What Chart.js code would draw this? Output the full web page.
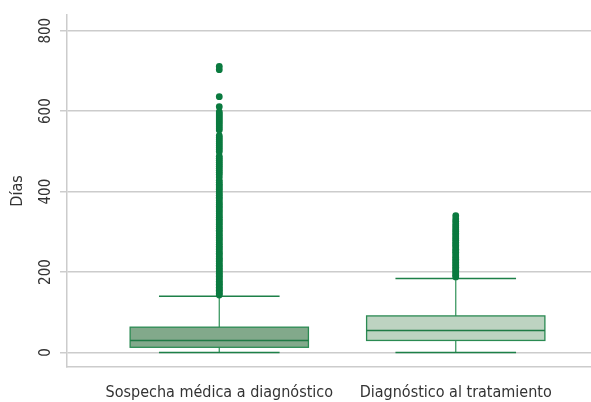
<!DOCTYPE html>
<html>
<head>
<meta charset="utf-8">
<script src="https://cdn.jsdelivr.net/npm/chart.js@4.4.1/dist/chart.umd.min.js"></script>
<style>
  html, body { margin: 0; padding: 0; background: #fff; }
  #wrap { width: 591px; height: 402px; }
</style>
</head>
<body>
<div id="wrap"><canvas id="boxChart"></canvas></div>
<script>
// --- Datos ---
const categorias = ['Sospecha médica a diagnóstico', 'Diagnóstico al tratamiento'];
const posiciones = [1, 2];

// Estadísticos de cada caja (días)
const bigoteInf = [0, 0];
const q1 = [13, 30];
const mediana = [30, 55];
const q3 = [63, 91];
const bigoteSup = [140, 184];

// Valores atípicos
const atipicosSospecha = [143, 147, 151, 155, 158, 162, 166, 170, 173, 177, 181, 185, 189, 193, 197,
  201, 205, 209, 213, 217, 221, 226, 230, 234, 238, 243, 247, 251, 256, 260, 264, 269, 273, 278,
  282, 286, 291, 295, 300, 304, 309, 313, 318, 322, 327, 331, 336, 340, 345, 350, 354, 359, 363,
  368, 372, 377, 382, 386, 391, 395, 400, 405, 409, 414, 418, 423, 428, 436, 443, 448, 453, 458,
  463, 468, 473, 478, 483, 488, 499, 504, 509, 514, 519, 524, 529, 534, 539, 553, 558,
  563, 568, 573, 578, 583, 588, 593, 598, 611, 636, 703, 711];
const atipicosTratamiento = [188, 192, 196, 200, 204, 208, 212, 216, 220, 224, 228, 232, 236, 240,
  245, 249, 253, 257, 262, 266, 270, 274, 279, 283, 287, 292, 296, 301, 305, 310, 315, 320, 326,
  332, 340];

const yTicks = [0, 200, 400, 600, 800];

const FUENTE = "'Liberation Sans Narrow', 'DejaVu Sans Condensed', 'Roboto Condensed', sans-serif";
const GRIS = '#cccccc';
const VERDE = '#0a7a3f';
const rellenos = ['#82a98b', '#bdd3c1'];

// --- Plugin: dibuja cajas y bigotes usando las escalas ---
const cajasPlugin = {
    id: 'cajas',
    beforeDatasetsDraw(chart) {
        const { ctx, scales: { x, y } } = chart;
        ctx.save();
        posiciones.forEach((pos, i) => {
            const xc = x.getPixelForValue(pos);
            const xl = x.getPixelForValue(pos - 0.377);
            const xr = x.getPixelForValue(pos + 0.377);
            const cl = x.getPixelForValue(pos - 0.255);
            const cr = x.getPixelForValue(pos + 0.255);
            const yQ1 = y.getPixelForValue(q1[i]);
            const yQ3 = y.getPixelForValue(q3[i]);
            const yMed = y.getPixelForValue(mediana[i]);
            const yInf = y.getPixelForValue(bigoteInf[i]);
            const ySup = y.getPixelForValue(bigoteSup[i]);

            // Bigotes
            ctx.strokeStyle = '#3f9a64';
            ctx.lineWidth = 1.3;
            ctx.beginPath();
            ctx.moveTo(xc, yQ3); ctx.lineTo(xc, ySup);
            ctx.moveTo(xc, yQ1); ctx.lineTo(xc, yInf);
            ctx.stroke();
            // Topes
            ctx.strokeStyle = '#1d8048';
            ctx.lineWidth = 1.5;
            ctx.beginPath();
            ctx.moveTo(cl, ySup); ctx.lineTo(cr, ySup);
            ctx.moveTo(cl, yInf); ctx.lineTo(cr, yInf);
            ctx.stroke();

            // Caja
            ctx.fillStyle = rellenos[i];
            ctx.fillRect(xl, yQ3, xr - xl, yQ1 - yQ3);
            ctx.strokeStyle = '#2a8a52';
            ctx.lineWidth = 1.3;
            ctx.strokeRect(xl, yQ3, xr - xl, yQ1 - yQ3);
            // Mediana
            ctx.strokeStyle = '#1f7a45';
            ctx.lineWidth = 1.5;
            ctx.beginPath();
            ctx.moveTo(xl, yMed); ctx.lineTo(xr, yMed);
            ctx.stroke();
        });
        ctx.restore();
    },
    afterDraw(chart) {
        // Etiquetas del eje Y giradas 90°
        const { ctx, scales: { y } } = chart;
        ctx.save();
        ctx.fillStyle = '#333';
        ctx.font = '15px ' + FUENTE;
        ctx.textAlign = 'center';
        ctx.textBaseline = 'middle';
        yTicks.forEach(v => {
            ctx.save();
            ctx.translate(46, y.getPixelForValue(v));
            ctx.rotate(-Math.PI / 2);
            ctx.fillText(String(v), 0, 0);
            ctx.restore();
        });
        ctx.restore();
    }
};

const puntos = [
    ...atipicosSospecha.map(v => ({ x: posiciones[0], y: v })),
    ...atipicosTratamiento.map(v => ({ x: posiciones[1], y: v }))
];

new Chart(document.getElementById('boxChart'), {
    type: 'scatter',
    data: {
        datasets: [{
            label: 'Atípicos',
            data: puntos,
            backgroundColor: VERDE,
            borderColor: VERDE,
            borderWidth: 0,
            pointRadius: 3.4
        }]
    },
    plugins: [cajasPlugin],
    options: {
        responsive: true,
        maintainAspectRatio: false,
        animation: false,
        layout: { autoPadding: false, padding: { top: 15, right: 0, left: 0, bottom: 0 } },
        plugins: {
            legend: { display: false },
            tooltip: { enabled: false }
        },
        scales: {
            x: {
                type: 'linear',
                min: 0.356,
                max: 2.572,
                afterBuildTicks: (scale) => { scale.ticks = posiciones.map(v => ({ value: v })); },
                afterFit: (scale) => { scale.height = 35; },
                grid: { display: false, drawTicks: false },
                border: { display: true, color: GRIS, width: 1.5 },
                ticks: {
                    padding: 16,
                    color: '#333',
                    font: { family: FUENTE, size: 16 },
                    maxRotation: 0,
                    callback: (val) => categorias[posiciones.indexOf(val)] ?? ''
                }
            },
            y: {
                type: 'linear',
                min: -36,
                max: 839,
                afterBuildTicks: (scale) => { scale.ticks = yTicks.map(v => ({ value: v })); },
                afterFit: (scale) => { scale.width = 67; },
                grid: { color: GRIS, lineWidth: 1.5, drawTicks: true, tickLength: 7, tickColor: GRIS },
                border: { display: true, color: GRIS, width: 1.5 },
                ticks: { display: false },
                title: {
                    display: true,
                    text: 'Días',
                    color: '#333',
                    font: { family: FUENTE, size: 16 },
                    padding: { top: 8, bottom: 0 }
                }
            }
        }
    }
});
</script>
</body>
</html>
